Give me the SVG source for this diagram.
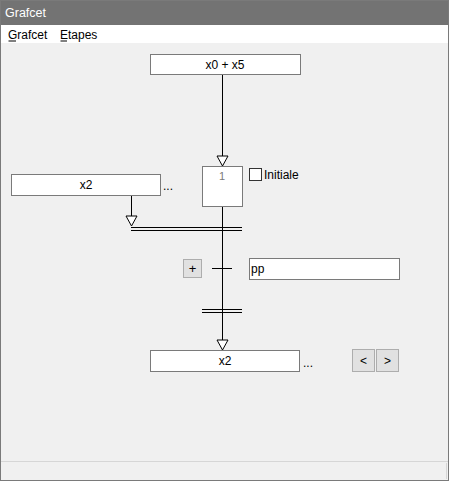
<svg xmlns="http://www.w3.org/2000/svg" width="449" height="481" viewBox="0 0 449 481">
<style>
text{font-family:"Liberation Sans","Noto Sans",Arial,sans-serif;font-size:12px;fill:#000}
.box{fill:#fff;stroke:#7a7a7a;stroke-width:1}
.btn{fill:#e1e1e1;stroke:#adadad;stroke-width:1}
.ln{stroke:#000;stroke-width:1;fill:none}
.arr{fill:#fff;stroke:#000;stroke-width:1}
.c{text-anchor:middle}
</style>
<defs>
<path id="tri" d="M-5.5,0 L5.5,0 L0,10 Z" class="arr"/>
</defs>
<g id="window">
<rect x="0" y="0" width="449" height="481" fill="#f0f0f0"/>
<rect x="0" y="0" width="449" height="25" fill="#737373"/>
<text x="5" y="17" style="fill:#fff;font-size:12.5px">Grafcet</text>
<rect x="1" y="25" width="447" height="18" fill="#fff"/>
<text x="8" y="39">Grafcet</text>
<line x1="8.5" y1="41" x2="16" y2="41" stroke="#000"/>
<text x="60" y="39">Etapes</text>
<line x1="60.5" y1="41" x2="67" y2="41" stroke="#000"/>
<line x1="1" y1="461.5" x2="448" y2="461.5" stroke="#d6d6d6"/>
<line x1="446.5" y1="463" x2="446.5" y2="479" stroke="#d6d6d6"/>
<rect x="0.5" y="0.5" width="448" height="480" fill="none" stroke="#7a7a7a"/>
</g>
<g id="connectors">
<line class="ln" x1="222.5" y1="74" x2="222.5" y2="156"/>
<use href="#tri" x="222.5" y="156"/>
<line class="ln" x1="131.5" y1="195" x2="131.5" y2="216"/>
<use href="#tri" x="131.5" y="216"/>
<line class="ln" x1="131" y1="227.5" x2="242" y2="227.5"/>
<line class="ln" x1="131" y1="230.5" x2="242" y2="230.5"/>
<line class="ln" x1="222.5" y1="206" x2="222.5" y2="340"/>
<line class="ln" x1="212" y1="268.5" x2="232" y2="268.5"/>
<line class="ln" x1="202" y1="309.5" x2="242" y2="309.5"/>
<line class="ln" x1="202" y1="312.5" x2="242" y2="312.5"/>
<use href="#tri" x="222.5" y="340"/>
</g>
<g id="top-condition">
<rect class="box" x="150.5" y="54.5" width="150" height="20"/>
<text class="c" x="225" y="69">x0 + x5</text>
</g>
<g id="step-1">
<rect class="box" x="202.5" y="166.5" width="40" height="40"/>
<text class="c" x="222" y="180" style="fill:#7a7a7a;font-size:11px">1</text>
</g>
<g id="initiale">
<rect x="249.5" y="168.5" width="12" height="12" fill="#fff" stroke="#333"/>
<text x="264" y="179">Initiale</text>
</g>
<g id="left-condition">
<rect class="box" x="11.5" y="174.5" width="149" height="21"/>
<text class="c" x="86" y="189">x2</text>
<text x="163" y="190">...</text>
</g>
<g id="plus-button">
<rect class="btn" x="183.5" y="259.5" width="18" height="18"/>
<text class="c" x="192.5" y="273" style="font-size:13px">+</text>
</g>
<g id="transition-pp">
<rect class="box" x="249.5" y="258.5" width="150" height="21"/>
<text x="251" y="273">pp</text>
</g>
<g id="bottom-condition">
<rect class="box" x="150.5" y="350.5" width="149" height="21"/>
<text class="c" x="225" y="365">x2</text>
<text x="303" y="367">...</text>
</g>
<g id="nav-buttons">
<rect class="btn" x="352.5" y="349.5" width="22" height="22"/>
<text class="c" x="363.5" y="365">&lt;</text>
<rect class="btn" x="376.5" y="349.5" width="22" height="22"/>
<text class="c" x="387.5" y="365">&gt;</text>
</g>
</svg>
